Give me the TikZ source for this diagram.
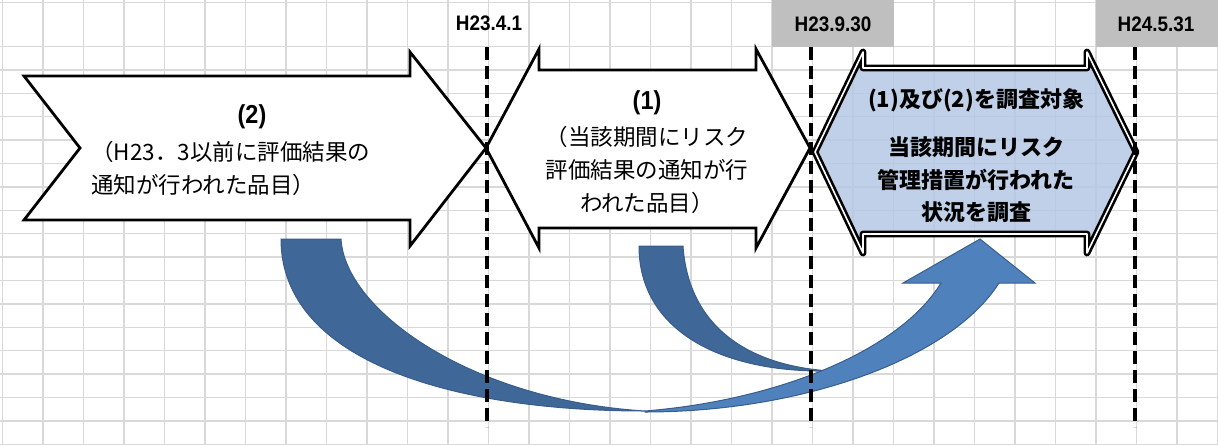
\documentclass[tikz,border=0pt]{standalone}
\usepackage{fontspec}
\newfontfamily\jpfont{Noto Sans CJK JP}
\newfontfamily\hdfont{Liberation Sans}[FakeStretch=0.9]
\definecolor{gridgray}{HTML}{D9D9D9}
\definecolor{hdgray}{HTML}{BFBFBF}
\definecolor{boxblue}{HTML}{B4C8E4}
\definecolor{arrowlight}{HTML}{4F81BD}
\definecolor{arrowdark}{HTML}{3F6797}
\definecolor{arrowedge}{HTML}{385D8A}

\begin{document}
\begin{tikzpicture}[x=1pt,y=-1pt,
    gridline/.style={draw=gridgray, line width=1.5pt},
    datelabel/.style={font=\hdfont\bfseries\fontsize{21}{21}\selectfont, inner sep=0pt},
    numlabel/.style={font=\hdfont\bfseries\fontsize{26}{26}\selectfont, inner sep=0pt},
    plaintext/.style={font=\jpfont\fontsize{22.5}{33}\selectfont, inner sep=0pt},
    boldtext/.style={font=\jpfont\bfseries\fontsize{22}{32.5}\selectfont, inner sep=0pt},
    period/.style={line width=3.5pt, dash pattern=on 13pt off 6pt},
    whitearrow/.style={draw, fill=white, line width=2.8pt, line join=miter},
    bluearrow/.style={draw, fill=boxblue, fill opacity=0.85, line width=2.6pt, double=white, double distance=1.6pt, line join=round},
    curvedark/.style={fill=arrowdark, draw=arrowedge, line width=1pt},
    curvelight/.style={fill=arrowlight, draw=arrowedge, line width=1pt}]

    \useasboundingbox (0,0) rectangle (1218,445);

    % sheet grid
    \foreach \k in {0,...,30}
        \draw[gridline] ({2.5+40.5*\k},0) -- ({2.5+40.5*\k},445);
    \draw[gridline] (0,2.7) -- (1218,2.7);
    \foreach \k in {0,...,17}
        \draw[gridline] (0,{46.5+23.4*\k}) -- (1218,{46.5+23.4*\k});

    \fill[hdgray] (772,0) rectangle (894,46.5);
    \fill[hdgray] (1096,0) rectangle (1218,46.5);

    \node[datelabel] (dateA) at (489,23) {H23.4.1};
    \node[datelabel] (dateB) at (833,24) {H23.9.30};
    \node[datelabel] (dateC) at (1156,24) {H24.5.31};

    % periods
    \draw[whitearrow] (24,76) -- (410,76) -- (410,52) -- (486,148) -- (410,246)
        -- (410,220) -- (24,220) -- (80,148) -- cycle;
    \draw[whitearrow] (486,148) -- (539,49) -- (539,70) -- (756,70) -- (756,49)
        -- (810,148) -- (756,248) -- (756,228) -- (539,228) -- (539,248) -- cycle;
    \draw[bluearrow] (815,152) -- (863,52) -- (863,68) -- (1087,68) -- (1087,52)
        -- (1136,152) -- (1087,253) -- (1087,234) -- (863,234) -- (863,253) -- cycle;

    % curved arrows
    \draw[curvedark] (281,239) -- (341,239) .. controls (345,310) and (470,400) .. (645,411)
        .. controls (450,411) and (281,360) .. (281,239) -- cycle;
    \draw[curvedark] (639,246) -- (683,246) .. controls (688,320) and (740,365) .. (830,371)
        .. controls (720,373) and (639,330) .. (639,246) -- cycle;
    \draw[curvelight] (645,411) .. controls (780,400) and (900,350) .. (941,283)
        -- (903,283) -- (980,239) -- (1035,283) -- (999,283)
        .. controls (950,360) and (800,412) .. (645,412) -- cycle;

    \foreach \x/\n in {487/A,811/B,1135/C} {
        \coordinate (top\n) at (\x,47);
        \coordinate (bot\n) at (\x,427);
        \draw[period] (top\n) -- (bot\n);
    }

    % texts
    \node[numlabel] (lbltwo) at (252,117) {(2)};
    \node[plaintext, anchor=west, align=left] (txttwo) at (91,168)
        {（H23．3以前に評価結果の\\通知が行われた品目）};

    \node[numlabel] (lblone) at (647,103) {(1)};
    \node[plaintext, align=center] (txtone) at (647,170)
        {（当該期間にリスク\\評価結果の通知が行\\われた品目）};

    \node[boldtext] (jointitle) at (976,100) {(1)及び(2)を調査対象};
    \node[boldtext, align=center] (jointext) at (976,180)
        {当該期間にリスク\\管理措置が行われた\\状況を調査};
\end{tikzpicture}
\end{document}
